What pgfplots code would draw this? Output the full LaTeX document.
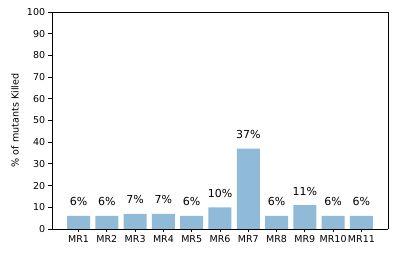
\documentclass[border=0pt]{standalone}
\usepackage{pgfplots}
\pgfplotsset{compat=1.18}
\usepackage{fontspec}
\setmainfont{DejaVu Sans}
\definecolor{barblue}{HTML}{8FBBD9}
\begin{document}
\fontsize{9.5}{11}\selectfont
\begin{tikzpicture}
\begin{axis}[
  scale only axis,
  width=336pt, height=217pt,
  at={(0,0)}, anchor=south west,
  xmin=-0.94, xmax=10.94,
  ymin=0, ymax=100,
  ytick={0,10,...,100},
  xtick={0,1,2,3,4,5,6,7,8,9,10},
  xticklabels={MR1,MR2,MR3,MR4,MR5,MR6,MR7,MR8,MR9,MR10,MR11},
  tick align=outside,
  major tick length=3.5pt,
  tick style={black, line width=0.8pt},
  axis line style={line width=0.8pt},
  axis x line*=bottom, axis y line*=left,
  /pgf/number format/assume math mode=true,
  ticklabel style={font=\fontsize{9.5}{11}\selectfont},
  ylabel={\% of mutants Killed},
  ylabel style={font=\fontsize{9.6}{11}\selectfont, at={(axis description cs:-0.11,0.5)}, anchor=center},
  clip=false,
]
\addplot[ybar, bar width=23pt, fill=barblue, draw=none,
  nodes near coords={\pgfmathprintnumber{\pgfplotspointmeta}\%},
  nodes near coords style={font=\fontsize{11}{13}\selectfont, yshift=6.5pt},
  point meta=explicit symbolic]
  table[meta=lab] {
x y lab
0 6 6
1 6 6
2 7 7
3 7 7
4 6 6
5 10 10
6 37 37
7 6 6
8 11 11
9 6 6
10 6 6
};
\draw[line width=0.8pt] (rel axis cs:1,0) -- (rel axis cs:1,1) -- (rel axis cs:0,1);
\end{axis}
\path (-52pt,-28pt) rectangle (345pt,229pt);
\end{tikzpicture}
\end{document}
